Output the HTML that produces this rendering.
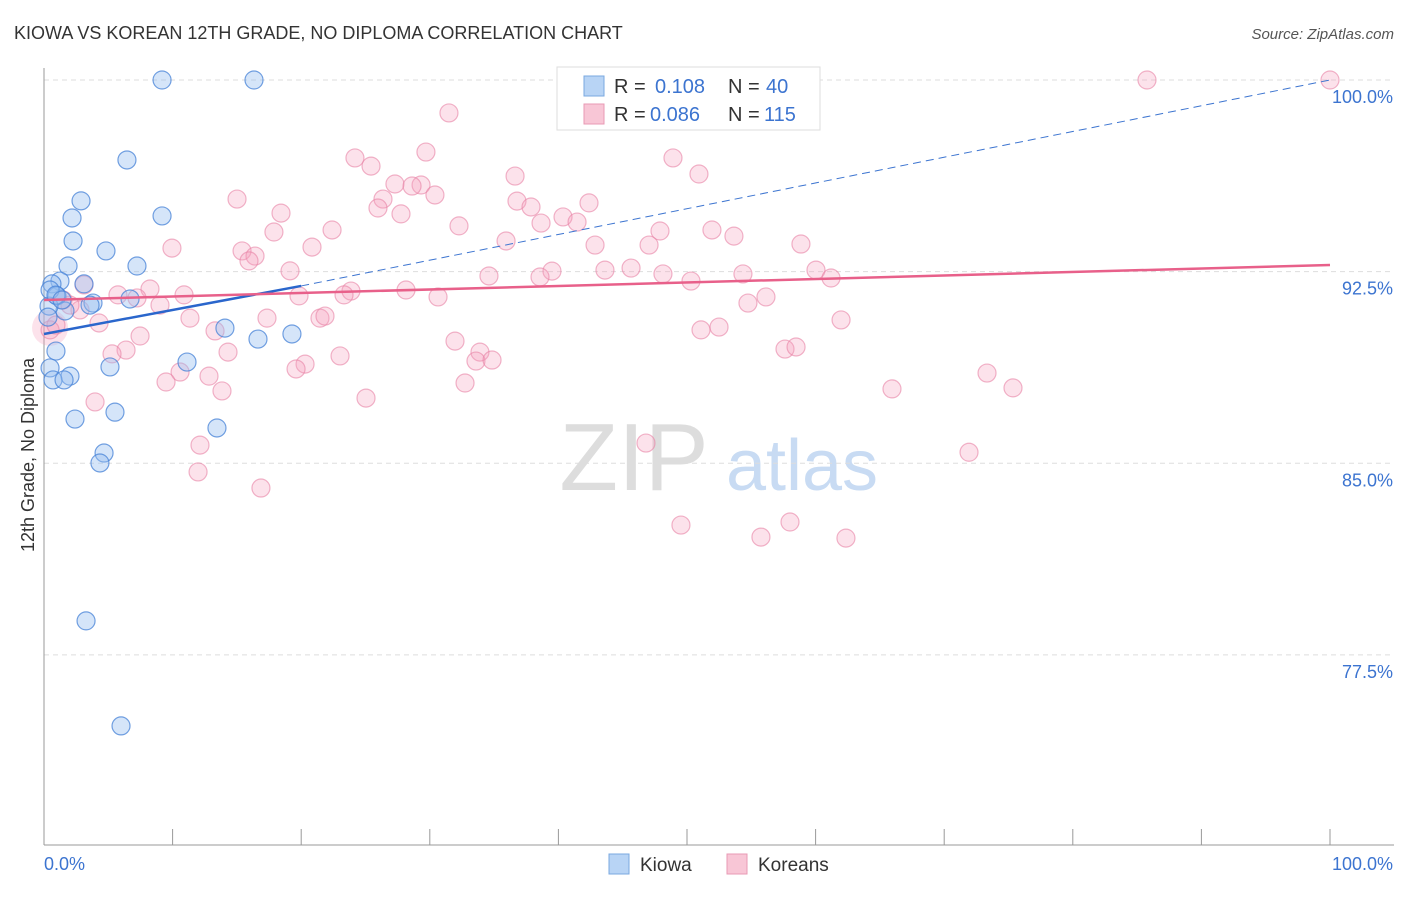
<!DOCTYPE html>
<html><head><meta charset="utf-8"><style>
body{margin:0;background:#fff;font-family:"Liberation Sans",sans-serif;}
svg text{font-family:"Liberation Sans",sans-serif;}
</style></head><body>
<svg id="c" width="1406" height="892" xmlns="http://www.w3.org/2000/svg">
<text x="14" y="39" font-size="18" fill="#333">KIOWA VS KOREAN 12TH GRADE, NO DIPLOMA CORRELATION CHART</text>
<text x="1394" y="39" font-size="15" fill="#555" text-anchor="end" font-style="italic">Source: ZipAtlas.com</text>
<g>
<text x="634" y="490" font-size="96" fill="#ddd" text-anchor="middle" font-family="Liberation Serif">ZIP</text>
<text x="802" y="490" font-size="72" fill="#c8dbf3" text-anchor="middle">atlas</text>
</g>
<g id="grid"></g>
<g id="axes"></g>
<g id="marks"></g>
<g>
<rect x="557" y="67" width="263" height="63" fill="#fff" stroke="#ddd"/>
<rect x="584" y="76" width="20" height="20" fill="#b8d4f5" stroke="#7aa8e0"/>
<rect x="584" y="104" width="20" height="20" fill="#f8c6d6" stroke="#e89ab4"/>
<text x="614" y="93" font-size="20" fill="#333">R = </text><text x="655" y="93" font-size="20" fill="#3c74d0">0.108</text>
<text x="728" y="93" font-size="20" fill="#333">N = </text><text x="766" y="93" font-size="20" fill="#3c74d0">40</text>
<text x="614" y="121" font-size="20" fill="#333">R = </text><text x="650" y="121" font-size="20" fill="#3c74d0">0.086</text>
<text x="728" y="121" font-size="20" fill="#333">N = </text><text x="764" y="121" font-size="20" fill="#3c74d0">115</text>
</g>
<g>
<rect x="609" y="854" width="20" height="20" fill="#b8d4f5" stroke="#7aa8e0"/>
<text x="640" y="871" font-size="19" fill="#333">Kiowa</text>
<rect x="727" y="854" width="20" height="20" fill="#f8c6d6" stroke="#e89ab4"/>
<text x="758" y="871" font-size="19" fill="#333">Koreans</text>
</g>
<text transform="translate(34,455) rotate(-90)" font-size="18" fill="#333" text-anchor="middle">12th Grade, No Diploma</text>
</svg>
<script>
const yTicks=[100,92.5,85,77.5];
const yTickLabels=["100.0%","92.5%","85.0%","77.5%"];
const xTickLabels=["0.0%","100.0%"];
const kiowaX=[9.18,16.33,6.45,9.18,2.88,2.18,2.26,4.82,7.23,1.87,1.24,0.62,3.11,1.01,1.63,3.81,6.69,0.39,14.07,16.64,19.28,11.12,0.93,5.13,0.47,2.02,0.7,1.56,5.52,2.41,13.45,4.67,4.35,3.27,5.99,0.47,0.93,0.31,1.4,3.58];
const kiowaY=[100,100,96.87,94.68,95.27,94.6,93.7,93.31,92.72,92.72,92.13,92.02,92.02,91.55,90.96,91.27,91.43,91.15,90.29,89.86,90.06,88.96,89.39,88.77,88.73,88.41,88.26,88.26,87.0,86.73,86.38,85.4,85.01,78.83,74.72,91.78,91.58,90.72,91.39,91.19];
const koreanX=[40.82,85.77,100,31.49,29.7,24.18,25.43,48.91,50.93,36.63,27.29,29.32,28.62,30.4,26.36,15.01,36.78,25.97,37.87,42.38,18.43,27.76,40.36,41.45,32.27,38.65,51.94,22.4,17.88,47.9,53.65,35.93,42.85,47.05,58.86,9.95,15.4,20.84,16.41,15.94,19.13,43.62,45.65,34.6,39.5,48.13,54.35,60.03,38.57,50.31,61.2,8.24,3.11,5.75,7.23,10.89,28.15,23.87,19.83,23.33,30.64,56.14,54.74,1.48,9.02,2.8,17.34,11.35,21.46,21.85,4.28,61.98,13.3,7.47,51.09,52.49,31.96,33.9,6.38,5.29,14.31,23.02,57.62,58.48,33.59,34.84,20.3,19.6,10.58,12.83,9.49,32.74,13.84,65.94,73.33,75.35,25.04,3.97,12.13,46.81,71.93,11.98,16.87,49.53,58.01,55.75,62.36,0.47,0.93,2.02];
const koreanY=[100,100,100,98.71,97.18,96.95,96.63,96.95,96.32,96.24,95.93,95.89,95.85,95.5,95.34,95.34,95.26,94.99,95.03,95.19,94.79,94.76,94.64,94.44,94.29,94.4,94.13,94.13,94.05,94.09,93.89,93.7,93.54,93.54,93.58,93.42,93.31,93.46,93.11,92.92,92.53,92.56,92.64,92.33,92.52,92.41,92.41,92.56,92.29,92.13,92.25,91.82,91.98,91.59,91.47,91.59,91.78,91.74,91.55,91.59,91.51,91.51,91.27,91.39,91.19,91.0,90.68,90.68,90.68,90.76,90.49,90.61,90.18,89.98,90.22,90.33,89.78,89.35,89.43,89.28,89.35,89.2,89.47,89.55,89.0,89.04,88.88,88.69,88.57,88.41,88.18,88.14,87.83,87.91,88.53,87.95,87.55,87.4,85.71,85.79,85.43,84.66,84.03,82.58,82.7,82.11,82.07,90.22,90.41,91.19];
const kiowaTrend=[90.06,91.94];
const kiowaTrendExt=[100];
const koreanTrend=[91.39,92.76];
const NS="http://www.w3.org/2000/svg";
const X=v=>44+v*12.86, Y=v=>80+(100-v)*25.55;
function mk(t,a,p){const e=document.createElementNS(NS,t);for(const k in a)e.setAttribute(k,a[k]);p.appendChild(e);return e;}
const grid=document.getElementById('grid'),axes=document.getElementById('axes'),marks=document.getElementById('marks');
yTicks.forEach((v,i)=>{
 const l=mk('line',{x1:44,x2:1394,y1:Y(v),y2:Y(v),stroke:'#ddd','stroke-dasharray':'5,4'},grid);
 
 
 const t=mk('text',{x:1393,y:Y(v)+23,'font-size':18,fill:'#3c74d0','text-anchor':'end'},axes);
 t.textContent=yTickLabels[i];
 
 
});
let ax=mk('line',{x1:44,x2:44,y1:68,y2:845,stroke:'#999'},axes);


ax=mk('line',{x1:44,x2:1394,y1:845,y2:845,stroke:'#999'},axes);


for(let i=0;i<=10;i++){const tk=mk('line',{x1:X(i*10),x2:X(i*10),y1:829,y2:845,stroke:'#999'},axes);
 
 }
[[0,'start',44],[1,'end',1393]].forEach(([i,a,x])=>{const t=mk('text',{x:x,y:870,'font-size':18,fill:'#3c74d0','text-anchor':a},axes);t.textContent=xTickLabels[i];
 
 });
// big pink blob
let b=mk('circle',{cx:X(0.47),cy:Y(90.3),r:18,fill:'rgba(244,160,190,0.3)',stroke:'none'},marks);


koreanX.forEach((x,i)=>{const c=mk('circle',{cx:X(x),cy:Y(koreanY[i]),r:9,fill:'rgba(244,160,190,0.3)',stroke:'rgba(232,130,165,0.6)','stroke-width':1.2},marks);
 
 });
kiowaX.forEach((x,i)=>{const c=mk('circle',{cx:X(x),cy:Y(kiowaY[i]),r:9,fill:'rgba(150,190,240,0.4)',stroke:'rgba(70,130,215,0.75)','stroke-width':1.2},marks);
 
 });
let tl=mk('line',{x1:X(20),y1:Y(kiowaTrend[1]),x2:X(100),y2:Y(kiowaTrendExt[0]),stroke:'#3c74d0','stroke-width':1,'stroke-dasharray':'8,5'},marks);


tl=mk('line',{x1:X(0),y1:Y(kiowaTrend[0]),x2:X(20),y2:Y(kiowaTrend[1]),stroke:'#2a66cc','stroke-width':2.5},marks);


tl=mk('line',{x1:X(0),y1:Y(koreanTrend[0]),x2:X(100),y2:Y(koreanTrend[1]),stroke:'#e8608a','stroke-width':2.5},marks);


</script>
</body></html>
